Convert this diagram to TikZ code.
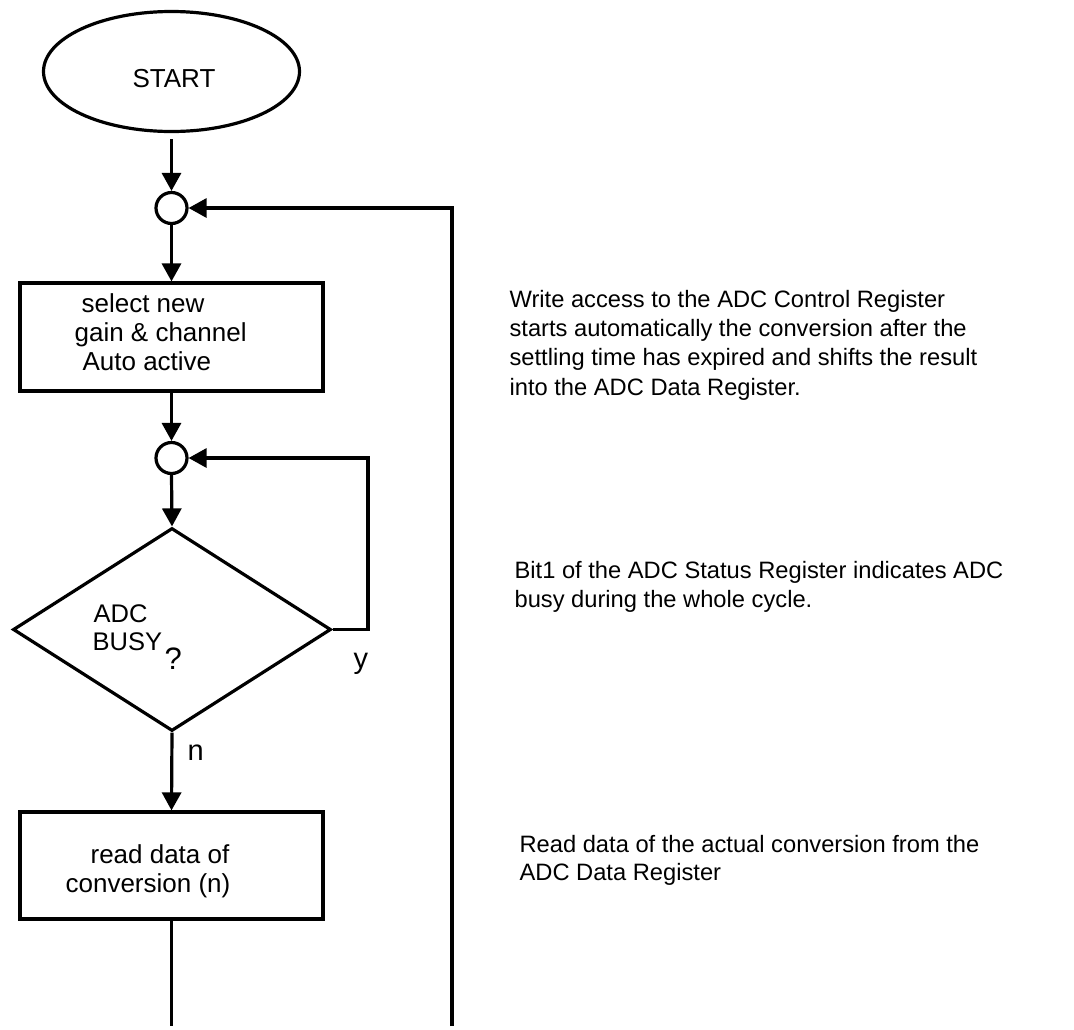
\documentclass[tikz,border=0pt]{standalone}
\usepackage{fontspec}
\setmainfont{Liberation Sans}
\usetikzlibrary{arrows.meta,shapes.geometric}
\begin{document}
\begin{tikzpicture}[x=1pt,y=-1pt, line width=3.2pt,
  arr/.style={-{Triangle[length=18pt,width=19pt]}},
  flowtxt/.style={font=\fontsize{26}{29}\selectfont, inner sep=0pt, anchor=base west},
  sidetxt/.style={font=\fontsize{23.7}{29}\selectfont, inner sep=0pt, anchor=base west},
  procbox/.style={draw, rectangle, minimum width=303pt, minimum height=108pt, inner sep=0pt},
  joint/.style={draw, circle, minimum size=31pt, inner sep=0pt}]
\useasboundingbox (0,0) rectangle (1074,1029);

% shapes
\node[draw, ellipse, minimum width=256pt, minimum height=120pt, inner sep=0pt] (start) at (171.5,71.5) {};
\node[joint] (j1) at (171.5,208) {};
\node[procbox] (sel) at (171.5,337) {};
\node[joint] (j2) at (171.5,458) {};
\node[draw, diamond, minimum width=318pt, minimum height=203pt, inner sep=0pt] (busy) at (172,629.5) {};
\node[procbox, minimum height=107pt] (rd) at (171.5,865.5) {};
\coordinate (bot1) at (171.5,1026);
\coordinate (bot2) at (452,1026);
\coordinate (top2) at (452,208);
\coordinate (lp1) at (368,629.5);
\coordinate (lp2) at (368,458);

% texts in flow
\node[flowtxt, anchor=base] (tstart) at (174,87) {START};
\node[flowtxt] (ts1) at (80,312) {select new};
\node[flowtxt] (ts2) at (73,341) {gain \& channel};
\node[flowtxt] (ts3) at (81,370) {Auto active};
\node[flowtxt, font=\fontsize{25.5}{29}\selectfont] (tb1) at (92,622) {ADC};
\node[flowtxt, font=\fontsize{25.5}{29}\selectfont] (tb2) at (91,650) {BUSY};
\node[flowtxt, font=\fontsize{31}{29}\selectfont] (tq) at (163,669) {?};
\node[flowtxt, font=\fontsize{29}{29}\selectfont] (ty) at (352,668) {y};
\node[flowtxt, font=\fontsize{29}{29}\selectfont] (tn) at (186,760) {n};
\node[flowtxt] (tr1) at (89,863) {read data of};
\node[flowtxt] (tr2) at (64,892) {conversion (n)};

% side texts
\node[sidetxt] (w1) at (508,307) {Write access to the ADC Control Register};
\node[sidetxt] (w2) at (508,336) {starts automatically the conversion after the};
\node[sidetxt] (w3) at (508,365) {settling time has expired and shifts the result};
\node[sidetxt] (w4) at (508,395) {into the ADC Data Register.};
\node[sidetxt] (b1) at (513,578) {Bit1 of the ADC Status Register indicates ADC};
\node[sidetxt] (b2) at (513,607) {busy during the whole cycle.};
\node[sidetxt] (r1) at (518,852) {Read data of the actual conversion from the};
\node[sidetxt] (r2) at (518,880) {ADC Data Register};

% connectors
\draw[arr, shorten <=6pt] (start.south) -- (j1.north);
\draw[arr] (j1.south) -- (sel.north);
\draw[arr] (sel.south) -- (j2.north);
\draw[arr] (j2.south) -- (busy.north);
\draw[arr] (busy.south) -- (rd.north);
\draw (rd.south) -- (bot1);
\draw[arr] (bot2) -- (top2) -- (j1.east);
\draw[arr] (busy.east) -- (lp1) -- (lp2) -- (j2.east);
\end{tikzpicture}
\end{document}
